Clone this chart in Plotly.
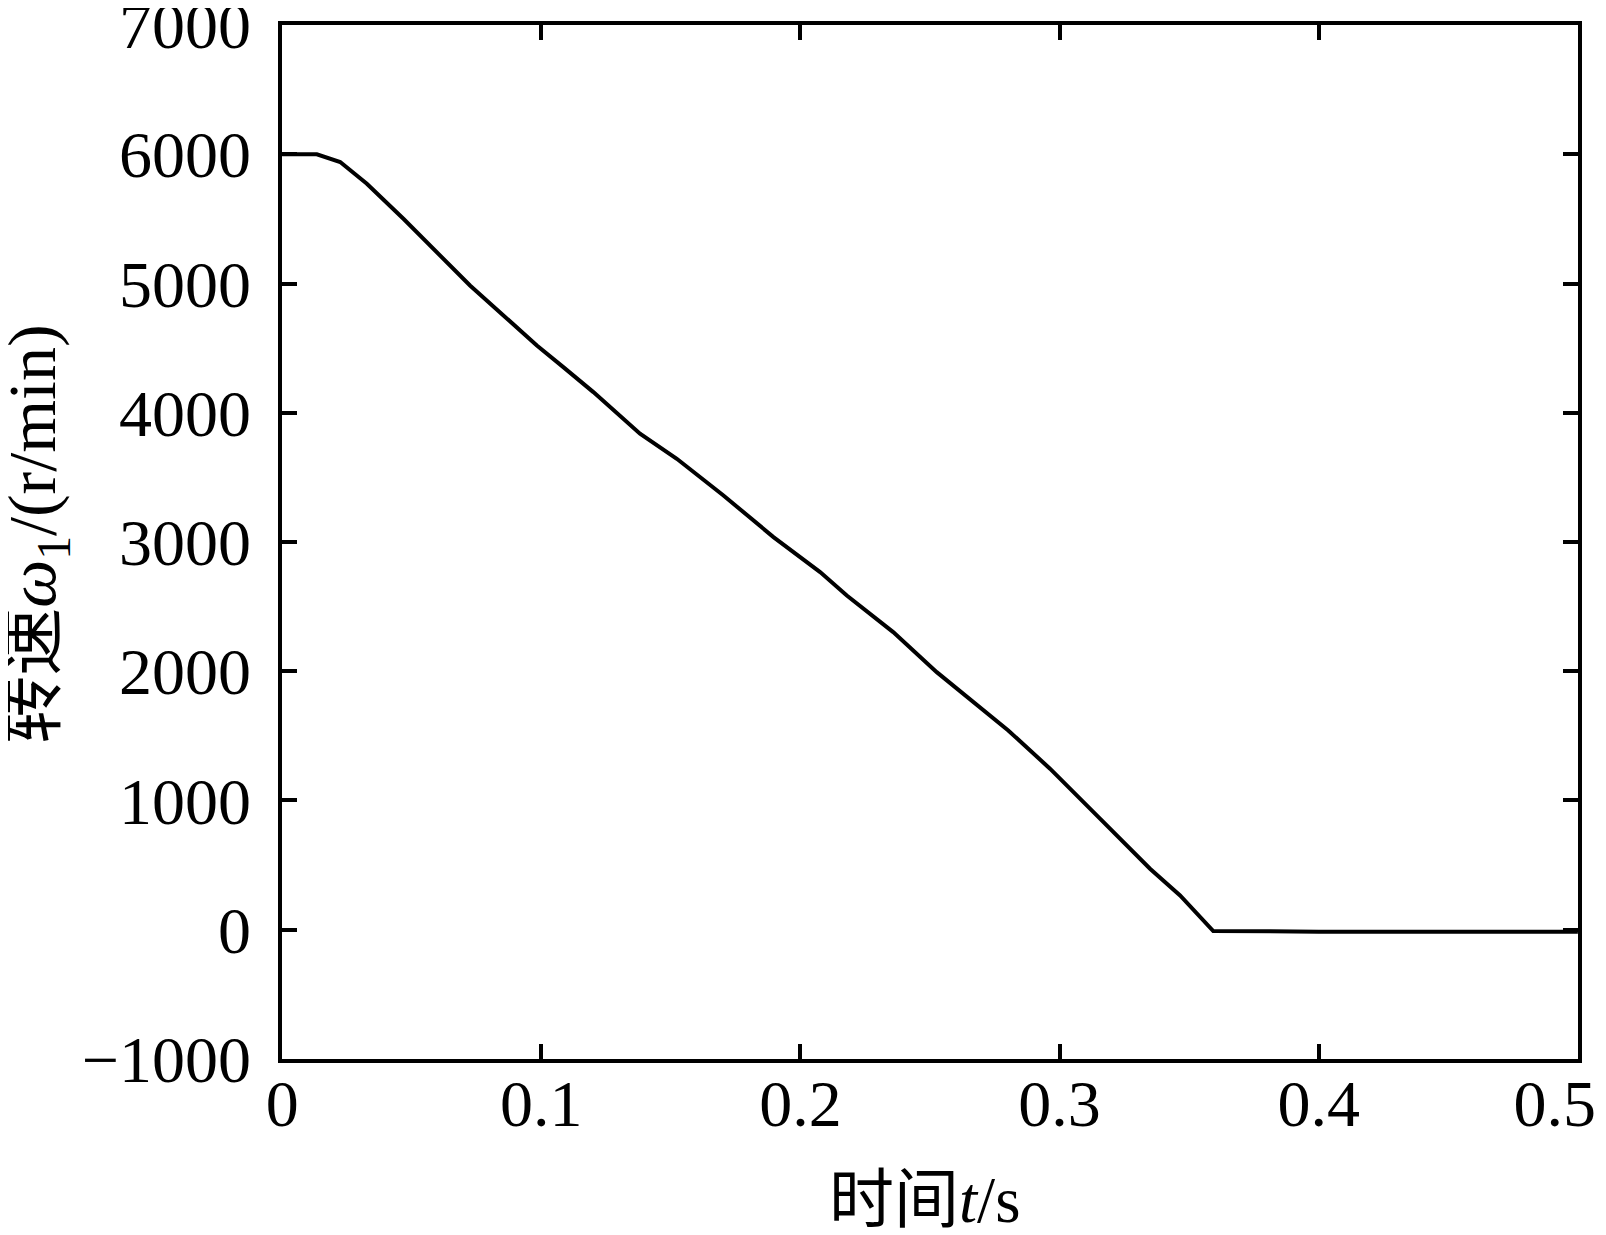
import plotly.graph_objs as go

# speed curve
t_s = [0, 0.0134, 0.0224, 0.0327, 0.0468, 0.0584, 0.0725, 0.0854, 0.0983,
       0.1085, 0.1201, 0.1381, 0.1523, 0.1703, 0.1896, 0.2076, 0.2179,
       0.2358, 0.2526, 0.2802, 0.2963, 0.3156, 0.3349, 0.3465, 0.3593,
       0.40, 0.45, 0.50]
speed = [6000, 6000, 5940, 5772, 5501, 5269, 4985, 4753, 4521, 4353, 4160,
         3838, 3644, 3360, 3038, 2767, 2586, 2303, 1993, 1542, 1246, 859,
         472, 265, -10, -15, -15, -15]

x_ticks = [0, 0.1, 0.2, 0.3, 0.4, 0.5]
# last label nudged left (trailing spaces) so it fits inside the page like the original
x_labels = ['0', '0.1', '0.2', '0.3', '0.4', '0.5\u2002\u2009']
y_ticks = [-1000, 0, 1000, 2000, 3000, 4000, 5000, 6000, 7000]

serif = 'Liberation Serif, Noto Sans CJK SC'

fig = go.Figure()
fig.add_trace(go.Scatter(
    x=t_s, y=speed, mode='lines',
    line=dict(color='black', width=4),
    showlegend=False
))

axis_style = dict(
    showline=True, linecolor='black', linewidth=3.5,
    mirror='ticks', ticks='inside', ticklen=15, tickwidth=3.5,
    tickcolor='black', showgrid=False, zeroline=False,
    ticklabeloverflow='allow', automargin=False,
)

# page body adds ~8px, so the figure is 8px smaller and margins shifted
fig.update_layout(
    width=1598, height=1227,
    margin=dict(l=274, r=28, t=17, b=176),
    paper_bgcolor='white', plot_bgcolor='white',
    font=dict(family=serif, color='black'),
    xaxis=dict(range=[-0.00005, 0.50005], tickvals=x_ticks, ticktext=x_labels,
               tickfont=dict(size=66), ticklabelstandoff=-16, **axis_style),
    yaxis=dict(range=[-1000.5, 7000.5], tickvals=y_ticks,
               tickfont=dict(size=66), ticklabelstandoff=14, **axis_style),
)

fig.add_annotation(
    text='时间<i>t</i>/s', xref='paper', yref='paper',
    x=0.496, y=-0.136, xanchor='center', yanchor='middle',
    showarrow=False, font=dict(size=65, family=serif)
)
fig.add_annotation(
    text='转速<i>ω</i><sub>1</sub>/(r/min)', xref='paper', yref='paper',
    x=-(282 - 37) / 1296, y=0.507, xanchor='center', yanchor='middle',
    textangle=-90, showarrow=False, font=dict(size=68, family=serif)
)

fig.write_html('out.html')
